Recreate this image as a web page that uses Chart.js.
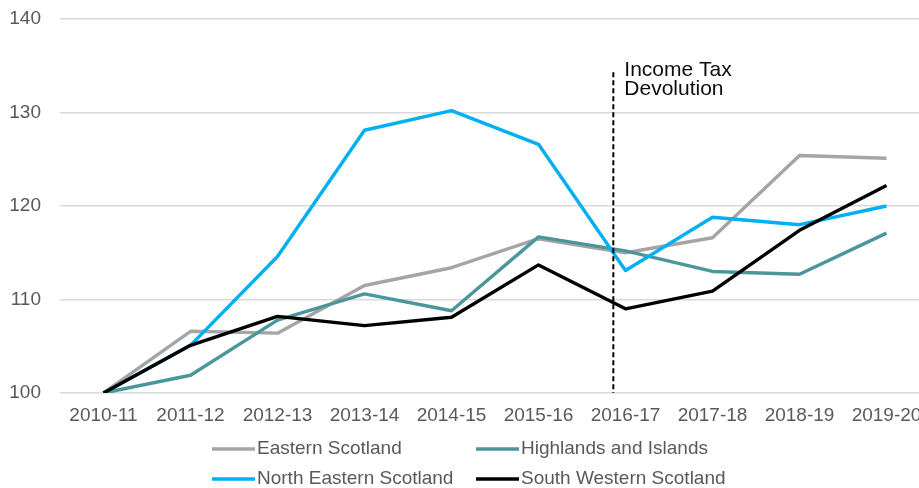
<!DOCTYPE html>
<html>
<head>
<meta charset="utf-8">
<title>Regional income tax index</title>
<script src="https://cdn.jsdelivr.net/npm/chart.js@4.4.1/dist/chart.umd.min.js"></script>
<style>
    html, body { margin: 0; padding: 0; background: #fff; overflow: hidden; }
    #chart { display: block; }
</style>
</head>
<body>
<canvas id="chart" width="940" height="488"></canvas>
<script>
'use strict';

// index, 2010-11 = 100
var years = ['2010-11', '2011-12', '2012-13', '2013-14', '2014-15', '2015-16', '2016-17', '2017-18', '2018-19', '2019-20'];
var easternScotland = [100, 106.6, 106.4, 111.5, 113.4, 116.5, 115.0, 116.6, 125.4, 125.1];
var highlandsIslands = [100, 101.9, 107.8, 110.6, 108.8, 116.7, 115.2, 113.0, 112.7, 117.1];
var northEastern = [100, 105.1, 114.6, 128.1, 130.2, 126.6, 113.1, 118.8, 118.0, 120.0];
var southWestern = [100, 105.1, 108.2, 107.2, 108.1, 113.7, 109.0, 110.9, 117.4, 122.2];
var yTicks = [100, 110, 120, 130, 140];

// where the devolution marker sits, in category units, and how high it reaches
var devolutionAt = 5.86;
var devolutionTop = 134.3;
var devolutionText = ['Income Tax', 'Devolution'];

var FONT = '"Liberation Sans", Arial, sans-serif';
var TEXT_GREY = '#595959';

function series(label, data, colour, order) {
    return {
        label: label,
        data: data,
        borderColor: colour,
        backgroundColor: colour,
        borderWidth: 3.4,
        pointRadius: 0,
        pointHoverRadius: 0,
        tension: 0,
        fill: false,
        borderJoinStyle: 'round',
        order: order
    };
}

// dashed vertical line with its label
var devolutionMarker = {
    id: 'devolutionMarker',
    afterDatasetsDraw: function (chart) {
        var ctx = chart.ctx;
        var xs = chart.scales.x, ys = chart.scales.y;
        var base = Math.floor(devolutionAt);
        var x0 = xs.getPixelForValue(base);
        var x1 = xs.getPixelForValue(base + 1);
        var x = x0 + (devolutionAt - base) * (x1 - x0);
        ctx.save();
        ctx.strokeStyle = '#000';
        ctx.lineWidth = 2;
        ctx.setLineDash([5, 3]);
        ctx.beginPath();
        ctx.moveTo(x, ys.getPixelForValue(devolutionTop));
        ctx.lineTo(x, ys.getPixelForValue(yTicks[0]));
        ctx.stroke();
        ctx.setLineDash([]);
        ctx.fillStyle = '#0d0d0d';
        ctx.font = '21px ' + FONT;
        ctx.textBaseline = 'alphabetic';
        ctx.textAlign = 'left';
        devolutionText.forEach(function (line, i) {
            ctx.fillText(line, x + 11, 76 + i * 19);
        });
        ctx.restore();
    }
};

// two-column legend under the axis
var gridLegend = {
    id: 'gridLegend',
    afterDraw: function (chart) {
        var ctx = chart.ctx;
        var cols = [212, 476];
        var rows = [449, 479];
        ctx.save();
        ctx.font = '19px ' + FONT;
        ctx.textBaseline = 'middle';
        ctx.textAlign = 'left';
        chart.data.datasets.forEach(function (ds, i) {
            var x = cols[i % 2];
            var y = rows[Math.floor(i / 2)];
            ctx.strokeStyle = ds.borderColor;
            ctx.lineWidth = 3.5;
            ctx.beginPath();
            ctx.moveTo(x, y);
            ctx.lineTo(x + 43, y);
            ctx.stroke();
            ctx.fillStyle = TEXT_GREY;
            ctx.fillText(ds.label, x + 45, y);
        });
        ctx.restore();
    }
};

var ctx = document.getElementById('chart');
var chart = new Chart(ctx, {
    type: 'line',
    data: {
        labels: years,
        datasets: [
            series('Eastern Scotland', easternScotland, '#A5A5A5', 3),
            series('Highlands and Islands', highlandsIslands, '#4A969B', 2),
            series('North Eastern Scotland', northEastern, '#00B0F0', 1),
            series('South Western Scotland', southWestern, '#000000', 0)
        ]
    },
    options: {
        responsive: false,
        animation: false,
        devicePixelRatio: 1,
        layout: {
            padding: { top: 19, right: 10, bottom: 0, left: 0 }
        },
        plugins: {
            legend: { display: false },
            tooltip: { enabled: false },
            title: { display: false }
        },
        scales: {
            x: {
                type: 'category',
                offset: true,
                grid: { display: false, drawTicks: false },
                border: { display: false },
                ticks: {
                    color: TEXT_GREY,
                    font: { family: FONT, size: 19 },
                    padding: 11,
                    maxRotation: 0,
                    autoSkip: false
                },
                afterFit: function (scale) {
                    scale.height = 95;
                }
            },
            y: {
                min: 100,
                max: 140,
                grid: { color: '#D9D9D9', lineWidth: 1.5, drawTicks: false },
                border: { display: false },
                ticks: {
                    color: TEXT_GREY,
                    font: { family: FONT, size: 19 },
                    padding: 19
                },
                afterBuildTicks: function (scale) {
                    scale.ticks = yTicks.map(function (v) { return { value: v }; });
                },
                afterFit: function (scale) {
                    scale.width = 60;
                    scale.paddingTop = 0;
                    scale.paddingBottom = 0;
                }
            }
        }
    },
    plugins: [devolutionMarker, gridLegend]
});
</script>
</body>
</html>
